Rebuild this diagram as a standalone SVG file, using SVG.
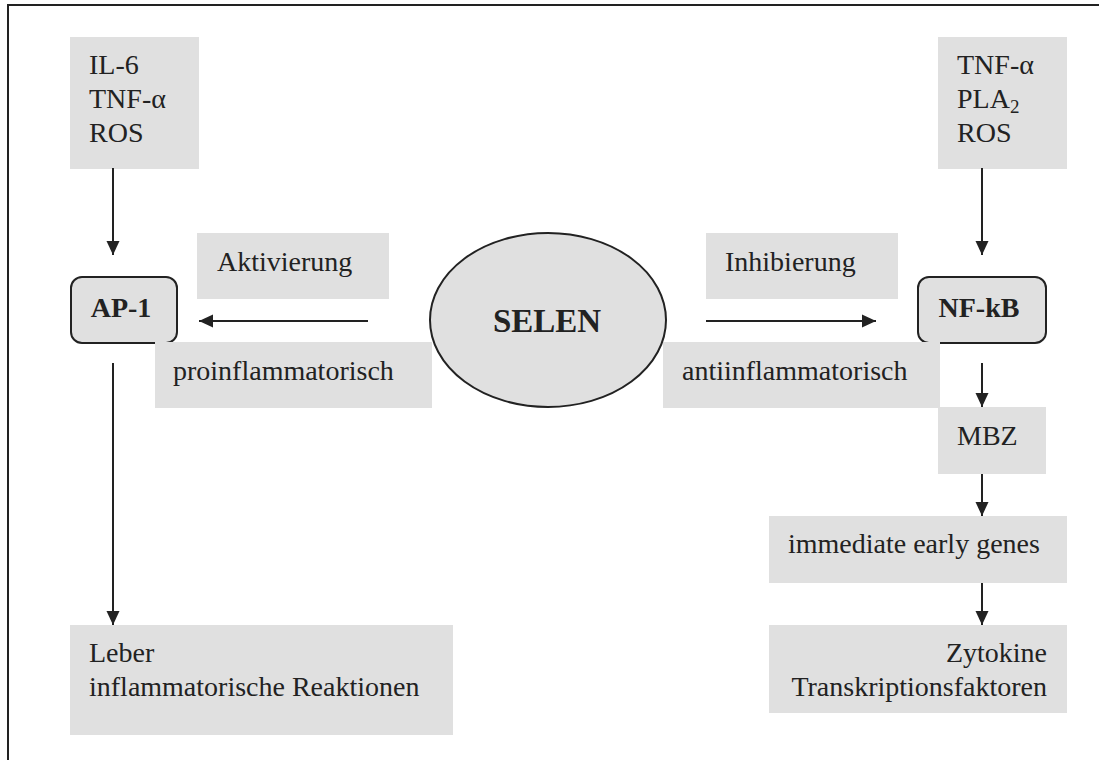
<svg xmlns="http://www.w3.org/2000/svg" width="1099" height="760" viewBox="0 0 1099 760">
<style>
.box{fill:#e0e0e0;stroke:none}
.rbox{fill:#e0e0e0;stroke:#222;stroke-width:2}
.t{font-family:"Liberation Serif","Times New Roman",serif;font-size:28px;fill:#222}
.b{font-weight:bold}
.big{font-size:33px}
.sub{font-size:19px}
.c{stroke:#222;stroke-width:2;fill:none;marker-end:url(#ah)}
</style>
<defs>
<marker id="ah" markerUnits="userSpaceOnUse" markerWidth="14" markerHeight="14" viewBox="0 0 14 14" refX="14" refY="7" orient="auto">
<path d="M0,0.5 L14,7 L0,13.5 Z" fill="#222"/>
</marker>
</defs>
<rect x="8" y="5" width="1200" height="800" fill="none" stroke="#222" stroke-width="2"/>

<g id="n-left-inputs">
<rect class="box" x="70" y="37" width="129" height="132"/>
<text class="t" x="89" y="74">IL-6</text>
<text class="t" x="89" y="108">TNF-α</text>
<text class="t" x="89" y="142">ROS</text>
</g>
<g id="n-right-inputs">
<rect class="box" x="938" y="37" width="129" height="132"/>
<text class="t" x="957" y="74">TNF-α</text>
<text class="t" x="957" y="108">PLA<tspan class="sub" dy="5">2</tspan></text>
<text class="t" x="957" y="142">ROS</text>
</g>
<g id="n-ap1">
<rect class="rbox" x="71" y="277" width="106" height="66" rx="11"/>
<text class="t b" x="121" y="317" text-anchor="middle">AP-1</text>
</g>
<g id="n-nfkb">
<rect class="rbox" x="918" y="277" width="128" height="66" rx="11"/>
<text class="t b" x="979" y="317" text-anchor="middle">NF-kB</text>
</g>
<g id="n-aktivierung">
<rect class="box" x="197" y="233" width="192" height="66"/>
<text class="t" x="217" y="271">Aktivierung</text>
</g>
<g id="n-inhibierung">
<rect class="box" x="706" y="233" width="192" height="66"/>
<text class="t" x="725" y="271">Inhibierung</text>
</g>
<g id="n-pro">
<rect class="box" x="155" y="342" width="277" height="66"/>
<text class="t" x="173" y="380">proinflammatorisch</text>
</g>
<g id="n-anti">
<rect class="box" x="663" y="342" width="277" height="66"/>
<text class="t" x="682" y="380">antiinflammatorisch</text>
</g>
<g id="n-selen">
<ellipse cx="548" cy="320" rx="118" ry="87" fill="#e0e0e0" stroke="#222" stroke-width="2"/>
<text class="t b big" x="547" y="332" text-anchor="middle">SELEN</text>
</g>
<g id="n-mbz">
<rect class="box" x="938" y="407" width="108" height="67"/>
<text class="t" x="957" y="445">MBZ</text>
</g>
<g id="n-ieg">
<rect class="box" x="769" y="516" width="298" height="67"/>
<text class="t" x="788" y="553">immediate early genes</text>
</g>
<g id="n-zyto">
<rect class="box" x="769" y="625" width="298" height="88"/>
<text class="t" x="1047" y="662" text-anchor="end">Zytokine</text>
<text class="t" x="1047" y="696" text-anchor="end">Transkriptionsfaktoren</text>
</g>
<g id="n-leber">
<rect class="box" x="70" y="625" width="383" height="110"/>
<text class="t" x="89" y="662">Leber</text>
<text class="t" x="89" y="696">inflammatorische Reaktionen</text>
</g>

<g id="connectors">
<line class="c" x1="113" y1="168" x2="113" y2="255"/>
<line class="c" x1="982" y1="168" x2="982" y2="255"/>
<line class="c" x1="368" y1="321" x2="199" y2="321"/>
<line class="c" x1="706" y1="321" x2="876" y2="321"/>
<line class="c" x1="113" y1="363" x2="113" y2="625"/>
<line class="c" x1="982" y1="363" x2="982" y2="407"/>
<line class="c" x1="982" y1="474" x2="982" y2="516"/>
<line class="c" x1="982" y1="583" x2="982" y2="625"/>
</g>
</svg>
